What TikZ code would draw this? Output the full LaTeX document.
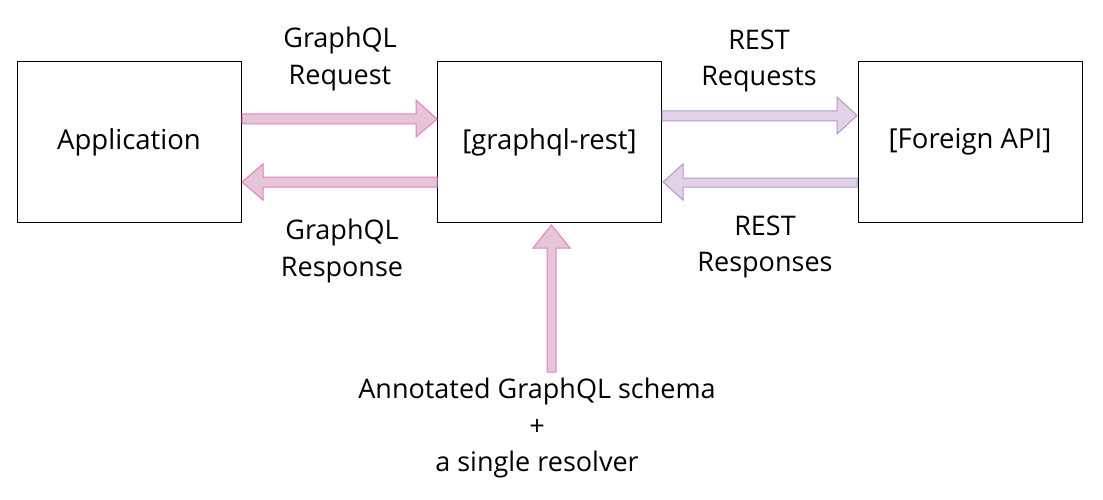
\documentclass[tikz,border=0pt]{standalone}
\usepackage{fontspec}
\setmainfont{Open Sans}
\definecolor{pinkfill}{HTML}{E6C4D9}
\definecolor{pinkline}{HTML}{E57FC0}
\definecolor{lilacfill}{HTML}{E2D2E8}
\definecolor{lilacline}{HTML}{B497C6}
\begin{document}
\begin{tikzpicture}[x=1pt,y=-1pt,
  box/.style={draw=black, line width=1pt, minimum width=224pt, minimum height=160pt, font=\fontsize{27.5}{33}\selectfont},
  lbl/.style={align=center, font=\fontsize{27}{36.5}\selectfont},
  pinkarrow/.style={fill=pinkfill, draw=pinkline, line width=1pt, line join=miter},
  lilacarrow/.style={fill=lilacfill, draw=lilacline, line width=1pt, line join=miter}]
\useasboundingbox (0,0) rectangle (1103,500);
\node[box] (app) at (129,142) {Application};
\node[box] (gr) at (549.5,142) {[graphql-rest]};
\node[box] (api) at (970,142) {[Foreign API]};
% GraphQL request / response arrows
\draw[pinkarrow] (242,114) -- (416,114) -- (416,100) -- (437,119) -- (416,137) -- (416,124) -- (242,124) -- cycle;
\draw[pinkarrow] (437,177) -- (263,177) -- (263,164) -- (242,182) -- (263,200) -- (263,187) -- (437,187) -- cycle;
% REST request / response arrows
\draw[lilacarrow] (662,111) -- (837,111) -- (837,97) -- (857,115.5) -- (837,134) -- (837,121) -- (662,121) -- cycle;
\draw[lilacarrow] (857,178) -- (683,178) -- (683,164) -- (663,182) -- (683,200) -- (683,187) -- (857,187) -- cycle;
% schema input arrow
\draw[pinkarrow] (547,372) -- (547,248) -- (533,248) -- (551.5,225) -- (570,248) -- (556,248) -- (556,372) -- cycle;
\node[lbl] (l1) at (340,59) {GraphQL\\Request};
\node[lbl] (l2) at (342,251) {GraphQL\\Response};
\node[lbl] (l3) at (759,61) {REST\\Requests};
\node[lbl] (l4) at (765,247) {REST\\Responses};
\node[lbl] (l5) at (537,428) {Annotated GraphQL schema\\+\\a single resolver};
\end{tikzpicture}
\end{document}
